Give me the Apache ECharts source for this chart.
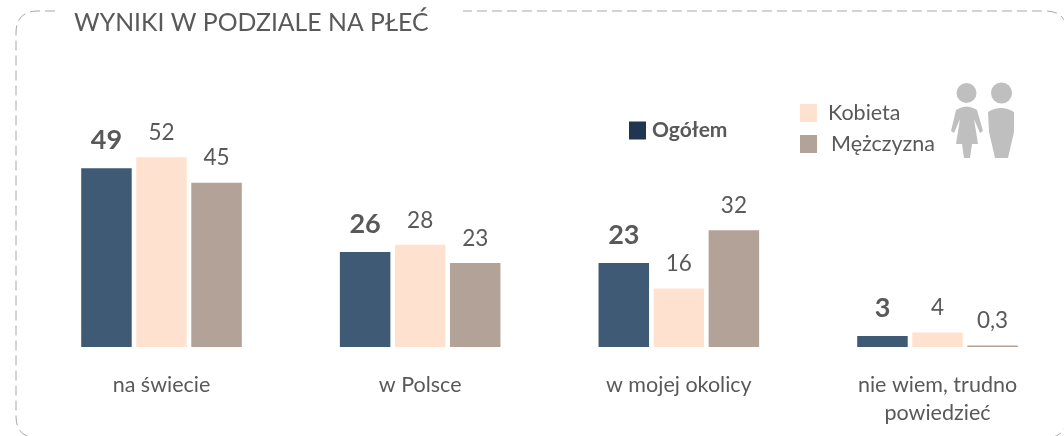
<!DOCTYPE html>
<html><head><meta charset="utf-8">
<style>html,body{margin:0;padding:0;background:#fff}#c{width:1064px;height:436px}</style>
<script src="https://cdn.jsdelivr.net/npm/echarts@6/dist/echarts.min.js"></script>
</head><body><div id="c"></div>
<script>
const categories = ['na świecie','w Polsce','w mojej okolicy','nie wiem, trudno\npowiedzieć'];
const ogolem = [49,26,23,3];
const kobieta = [52,28,16,4];
const mezczyzna = [45,23,32,0.3];
const FONT = 'Lato, "Open Sans", sans-serif';
const TXT = '#595959';
const fmt = p => String(p.value).replace('.',',');
const reg = (name, d) => echarts.graphic.registerShape(name, echarts.graphic.extendPath(d, {}));
reg('frameShape','M55 11 H38 Q16 11 16 33 V416 Q16 438 38 438 H1045 Q1067 438 1067 416 V33 Q1067 11 1045 11 H463');
reg('womanShape','M960 108 Q966.5 105 973 108 L977 110 L983 131 L980 133 L974 119 L978 144 L972 144 L970 158 L964 158 L962 144 L956 144 L960 119 L954 133 L951 131 L956 110 Z');
reg('manShape','M988 112 Q1001 104 1014 112 L1014 132 L1008 158 L995 158 L989 132 Z');
const chart = echarts.init(document.getElementById('c'),null,{renderer:'canvas'});
const lbl = (extra) => Object.assign({show:true,position:'top',distance:13,color:TXT,fontFamily:FONT,fontSize:22.5,formatter:fmt},extra||{});
const bar = (name, data, color, label) => ({name,type:'bar',data,barWidth:50.5,barGap:'9%',clip:false,barMinHeight:1.5,itemStyle:{color},label});
chart.setOption({
  animation:false,
  backgroundColor:'#fff',
  title:{text:'WYNIKI W PODZIALE NA PŁEĆ',left:69,top:6,textStyle:{color:TXT,fontFamily:FONT,fontSize:24.8,fontWeight:'normal'}},
  legend:[
    {left:624,top:115,icon:'rect',itemWidth:17,itemHeight:18,itemGap:4,selectedMode:false,
     data:[{name:'Ogółem',itemStyle:{color:'#1f3550'},textStyle:{fontWeight:'bold'}}],
     textStyle:{color:TXT,fontFamily:FONT,fontSize:21,lineHeight:20,padding:[0,0,0,1]}},
    {left:795,top:97,orient:'vertical',icon:'rect',itemWidth:17,itemHeight:18,itemGap:9,selectedMode:false,
     data:[{name:'Kobieta'},{name:'Mężczyzna',textStyle:{padding:[0,0,0,9]}}],
     textStyle:{color:TXT,fontFamily:FONT,fontSize:21.5,lineHeight:18,padding:[0,0,0,6]}}
  ],
  grid:{left:161.5,width:776,top:100,height:247,containLabel:false},
  xAxis:{type:'category',boundaryGap:false,data:categories,axisLine:{show:false},axisTick:{show:false},
    axisLabel:{color:TXT,fontFamily:FONT,fontSize:21.5,margin:24,lineHeight:28,interval:0}},
  yAxis:{type:'value',min:0,max:67.67,show:false,splitLine:{show:false}},
  series:[
    bar('Ogółem',ogolem,'#3f5a75',lbl({fontWeight:'bold',fontSize:27,distance:14})),
    bar('Kobieta',kobieta,'#fee2cf',lbl()),
    bar('Mężczyzna',mezczyzna,'#b2a297',lbl())
  ],
  graphic:[
    {type:'frameShape',silent:true,style:{fill:null,stroke:'#a8a8a8',lineWidth:1,lineDash:[10,5]}},
    {type:'circle',silent:true,shape:{cx:966.5,cy:93,r:10},style:{fill:'#bfbfbf'}},
    {type:'circle',silent:true,shape:{cx:1001.5,cy:93,r:10.5},style:{fill:'#bfbfbf'}},
    {type:'womanShape',silent:true,style:{fill:'#bfbfbf'}},
    {type:'manShape',silent:true,style:{fill:'#bfbfbf'}}
  ]
});
</script></body></html>
